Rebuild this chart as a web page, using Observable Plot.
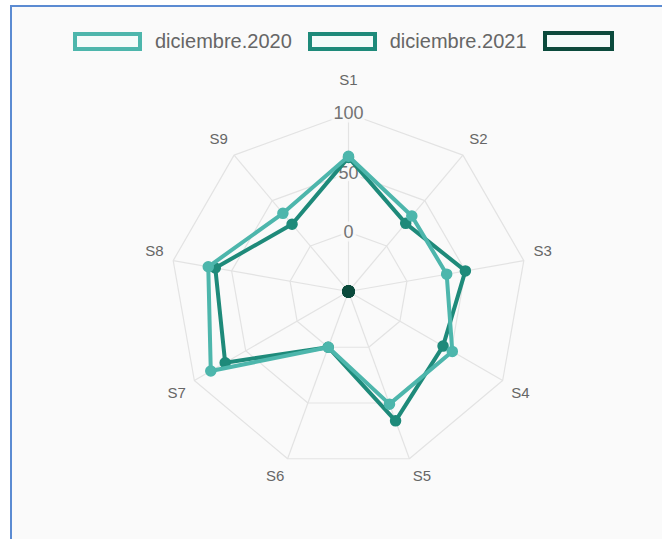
<!DOCTYPE html>
<html><head><meta charset="utf-8">
<script src="https://cdn.jsdelivr.net/npm/d3@7"></script>
<script src="https://cdn.jsdelivr.net/npm/@observablehq/plot@0.6"></script>
<style>
html,body{margin:0;padding:0;background:#fff;width:662px;height:539px;overflow:hidden;font-family:"Liberation Sans",Arial,sans-serif}
#frame{position:absolute;left:10px;top:5px;width:720px;height:600px;border-left:2px solid #5b8bd2;border-top:2px solid #5b8bd2;background:#fafafa}
#legend{position:absolute;left:73px;top:31px;height:20px;display:flex;align-items:center}
#legend .box{box-sizing:border-box;width:69px;height:19px;border:4px solid;background:#f4fbfa}
#legend .box.last{width:71px;height:20px}
#legend .lab{font-size:20px;line-height:20px;color:#666;margin-left:13px;margin-right:16px;white-space:nowrap}
#chart{position:absolute;left:0;top:60px}
</style></head><body>
<div id="frame"></div>
<div id="legend"></div>
<div id="chart"></div>
<script>
const axes = ["S1","S2","S3","S4","S5","S6","S7","S8","S9"];
const seriesNames = ["diciembre.2020","diciembre.2021",""];
const v2020 = [64,33,34,51,51,0,84,70,36];
const v2021 = [63,25,50,42,66,0,70,64,24];
const v3 = [-50,-50,-50,-50,-50,-50,-50,-50,-50];
const ticks = [0,50,100];
const colors = ["#4db6ac","#1e8a7a","#0b4a3c"];
const rMin = -50, rMax = 100;

// legend
const leg = document.getElementById("legend");
seriesNames.forEach((n,i)=>{
  const b=document.createElement("span"); b.className="box"+(n?"":" last"); b.style.borderColor=colors[i]; leg.appendChild(b);
  if(n){const t=document.createElement("span"); t.className="lab"; t.textContent=n; leg.appendChild(t);}
});

const W=662, H=479, cx=348, cy=231, k=178/(rMax-rMin);
const N=axes.length;
const ang = i => i*2*Math.PI/N;
const px = (r,i) => r*Math.sin(ang(i));
const py = (r,i) => r*Math.cos(ang(i));

const rings = [];
ticks.forEach(t=>{ axes.forEach((a,i)=>rings.push({t, i, r:t-rMin})); });
const spokes = axes.map((a,i)=>({a,i}));
const mk = vals => vals.map((v,i)=>({v,i,x:px(v-rMin,i),y:py(v-rMin,i)}));
const d1=mk(v2020), d2=mk(v2021), d3=mk(v3);

// point label placement (pixels converted to data units)
const LR = 188;
const sgn = v => Math.abs(v) < 1e-6 ? 0 : Math.sign(v);
const lx = i => (LR*Math.sin(ang(i)) + 9*sgn(Math.sin(ang(i))))/k;
const ly = i => (LR*Math.cos(ang(i)) + 8*sgn(Math.cos(ang(i))) + (i===0 ? 15 : 0))/k;

const plot = Plot.plot({
  width:W, height:H, margin:0,
  x:{domain:[-cx/k,(W-cx)/k], axis:null},
  y:{domain:[-(H-cy)/k, cy/k], axis:null},
  style:{background:"transparent", fontFamily:"Liberation Sans, Arial, sans-serif"},
  marks:[
    Plot.line(rings,{x:d=>px(d.r,d.i), y:d=>py(d.r,d.i), z:"t", curve:"linear-closed", stroke:"#e3e3e3", strokeWidth:1.2}),
    Plot.link(spokes,{x1:d=>0, y1:d=>0, x2:d=>px(rMax-rMin,d.i), y2:d=>py(rMax-rMin,d.i), stroke:"#e3e3e3", strokeWidth:1.2}),
    Plot.text(ticks,{x:d=>0, y:d=>d-rMin, text:d=>String(d), fontSize:18, fill:"#737373", stroke:"#fafafa", strokeWidth:7, strokeOpacity:0.85}),
    Plot.text(spokes,{x:d=>lx(d.i), y:d=>ly(d.i), text:"a", fontSize:15, fill:"#666"}),
    Plot.line(d3,{x:"x",y:"y",curve:"linear-closed",stroke:colors[2],strokeWidth:4}),
    Plot.dot(d3,{x:"x",y:"y",r:5.5,fill:colors[2],stroke:colors[2]}),
    Plot.line(d2,{x:"x",y:"y",curve:"linear-closed",stroke:colors[1],strokeWidth:4, strokeLinejoin:"round"}),
    Plot.dot(d2,{x:"x",y:"y",r:5,fill:colors[1],stroke:colors[1]}),
    Plot.line(d1,{x:"x",y:"y",curve:"linear-closed",stroke:colors[0],strokeWidth:4, strokeLinejoin:"round"}),
    Plot.dot(d1,{x:"x",y:"y",r:5,fill:colors[0],stroke:colors[0]})
  ]
});
document.getElementById("chart").appendChild(plot);
</script>
</body></html>
